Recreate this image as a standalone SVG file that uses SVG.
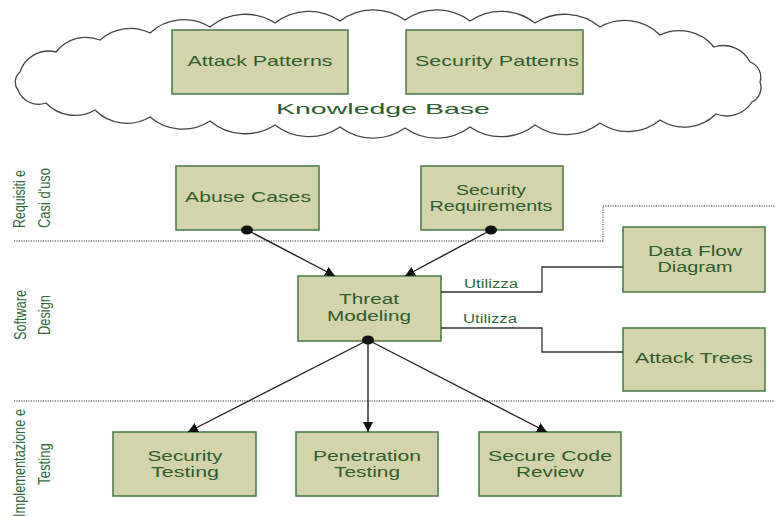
<svg xmlns="http://www.w3.org/2000/svg" width="775" height="516" viewBox="0 0 775 516">
<style>
.box{fill:#d4d4aa;stroke:#4f7f4f;stroke-width:1.6}
.t{font-family:"Liberation Sans",Arial,sans-serif;font-size:15px;fill:#2e5c2e;text-anchor:middle}
.t2{font-family:"Liberation Sans",Arial,sans-serif;font-size:14px;fill:#2e5c2e;text-anchor:middle}
.side{font-family:"Liberation Sans Narrow","Liberation Sans",Arial,sans-serif;font-size:16px;fill:#2f6a3a;text-anchor:middle}
.lbl{font-family:"Liberation Sans",Arial,sans-serif;font-size:12px;fill:#2e6a3a}
.dot{fill:none;stroke:#777;stroke-width:1.4;stroke-dasharray:1.2 1.2}
.edge{fill:none;stroke:#222;stroke-width:1.4}
.link{fill:none;stroke:#333;stroke-width:1.3}
</style>
<defs>
<marker id="arr" viewBox="0 0 10 10" refX="10" refY="5" markerWidth="10" markerHeight="10" markerUnits="userSpaceOnUse" orient="auto">
<path d="M0,0 L10,5 L0,10 Z" fill="#111"/>
</marker>
</defs>

<g id="cloud">
<path fill="#fff" stroke="#444" stroke-width="1.3" d="M18,90 A13 13 0 0 1 20,72 A30 30 0 0 1 56,52 A38 38 0 0 1 100,40 A45 45 0 0 1 150,33 A50 50 0 0 1 210,27 A55 55 0 0 1 275,23 A55 55 0 0 1 340,21 A55 55 0 0 1 405,20 A55 55 0 0 1 470,21 A55 55 0 0 1 535,23 A55 55 0 0 1 600,27 A50 50 0 0 1 660,35 A45 45 0 0 1 714,47 A30 30 0 0 1 750,62 A16 16 0 0 1 760,82 A16 16 0 0 1 752,102 A30 30 0 0 1 716,114 A45 45 0 0 1 660,120 A50 50 0 0 1 600,123 A55 55 0 0 1 535,125 A55 55 0 0 1 470,127 A55 55 0 0 1 405,128 A55 55 0 0 1 340,127 A55 55 0 0 1 275,125 A55 55 0 0 1 210,121 A50 50 0 0 1 150,117 A45 45 0 0 1 95,110 A40 40 0 0 1 46,103 A22 22 0 0 1 18,90 Z"/>
<text class="t" x="383" y="114" font-size="21" textLength="214" lengthAdjust="spacingAndGlyphs">Knowledge Base</text>
</g>

<g id="attack-patterns">
<rect class="box" x="172" y="30" width="176" height="64"/>
<text class="t" x="260" y="66" textLength="145" lengthAdjust="spacingAndGlyphs">Attack Patterns</text>
</g>
<g id="security-patterns">
<rect class="box" x="406" y="30" width="177" height="64"/>
<text class="t" x="497" y="66" textLength="164" lengthAdjust="spacingAndGlyphs">Security Patterns</text>
</g>

<g id="lanes">
<path class="dot" d="M14,241 H603 V206 H775"/>
<path class="dot" d="M14,401 H775"/>
<text class="side" transform="translate(25,199) rotate(-90)" textLength="58" lengthAdjust="spacingAndGlyphs">Requisiti e</text>
<text class="side" transform="translate(50,198) rotate(-90)" textLength="60" lengthAdjust="spacingAndGlyphs">Casi d'uso</text>
<text class="side" transform="translate(26,315) rotate(-90)" textLength="50" lengthAdjust="spacingAndGlyphs">Software</text>
<text class="side" transform="translate(50,315) rotate(-90)" textLength="40" lengthAdjust="spacingAndGlyphs">Design</text>
<text class="side" transform="translate(25,463) rotate(-90)" textLength="108" lengthAdjust="spacingAndGlyphs">Implementazione e</text>
<text class="side" transform="translate(50,464) rotate(-90)" textLength="42" lengthAdjust="spacingAndGlyphs">Testing</text>
</g>

<g id="abuse-cases">
<rect class="box" x="176" y="166" width="143" height="64"/>
<text class="t" x="248" y="202" textLength="126" lengthAdjust="spacingAndGlyphs">Abuse Cases</text>
</g>
<g id="security-requirements">
<rect class="box" x="421" y="166" width="142" height="64"/>
<text class="t2" x="491" y="195" textLength="70" lengthAdjust="spacingAndGlyphs">Security</text>
<text class="t2" x="491" y="211" textLength="123" lengthAdjust="spacingAndGlyphs">Requirements</text>
</g>
<g id="threat-modeling">
<rect class="box" x="298" y="276" width="143" height="65"/>
<text class="t2" x="369" y="304" textLength="60" lengthAdjust="spacingAndGlyphs">Threat</text>
<text class="t2" x="369" y="321" textLength="84" lengthAdjust="spacingAndGlyphs">Modeling</text>
</g>
<g id="data-flow-diagram">
<rect class="box" x="623" y="227" width="142" height="65"/>
<text class="t2" x="695" y="256" textLength="94" lengthAdjust="spacingAndGlyphs">Data Flow</text>
<text class="t2" x="695" y="272" textLength="75" lengthAdjust="spacingAndGlyphs">Diagram</text>
</g>
<g id="attack-trees">
<rect class="box" x="623" y="328" width="142" height="63"/>
<text class="t" x="694" y="363" textLength="118" lengthAdjust="spacingAndGlyphs">Attack Trees</text>
</g>
<g id="security-testing">
<rect class="box" x="113" y="432" width="143" height="64"/>
<text class="t2" x="185" y="461" textLength="75" lengthAdjust="spacingAndGlyphs">Security</text>
<text class="t2" x="185" y="477" textLength="68" lengthAdjust="spacingAndGlyphs">Testing</text>
</g>
<g id="penetration-testing">
<rect class="box" x="296" y="432" width="142" height="64"/>
<text class="t2" x="367" y="461" textLength="108" lengthAdjust="spacingAndGlyphs">Penetration</text>
<text class="t2" x="367" y="477" textLength="66" lengthAdjust="spacingAndGlyphs">Testing</text>
</g>
<g id="secure-code-review">
<rect class="box" x="479" y="432" width="142" height="64"/>
<text class="t2" x="550" y="461" textLength="124" lengthAdjust="spacingAndGlyphs">Secure Code</text>
<text class="t2" x="550" y="477" textLength="68" lengthAdjust="spacingAndGlyphs">Review</text>
</g>

<g id="connectors">
<line class="edge" x1="247" y1="230" x2="335" y2="276" marker-end="url(#arr)"/>
<ellipse cx="247" cy="230" rx="6" ry="4.5" fill="#111"/>
<line class="edge" x1="491" y1="230" x2="405" y2="276" marker-end="url(#arr)"/>
<ellipse cx="491" cy="230" rx="6" ry="4.5" fill="#111"/>
<line class="edge" x1="368" y1="340" x2="188" y2="432" marker-end="url(#arr)"/>
<line class="edge" x1="368" y1="340" x2="368" y2="432" marker-end="url(#arr)"/>
<line class="edge" x1="368" y1="340" x2="547" y2="432" marker-end="url(#arr)"/>
<ellipse cx="368" cy="340" rx="6" ry="4.5" fill="#111"/>
<path class="link" d="M441,292 H542 V267 H623"/>
<path class="link" d="M441,328 H542 V352 H623"/>
<text class="lbl" x="464" y="288" textLength="54" lengthAdjust="spacingAndGlyphs">Utilizza</text>
<text class="lbl" x="463" y="323" textLength="54" lengthAdjust="spacingAndGlyphs">Utilizza</text>
</g>
</svg>
